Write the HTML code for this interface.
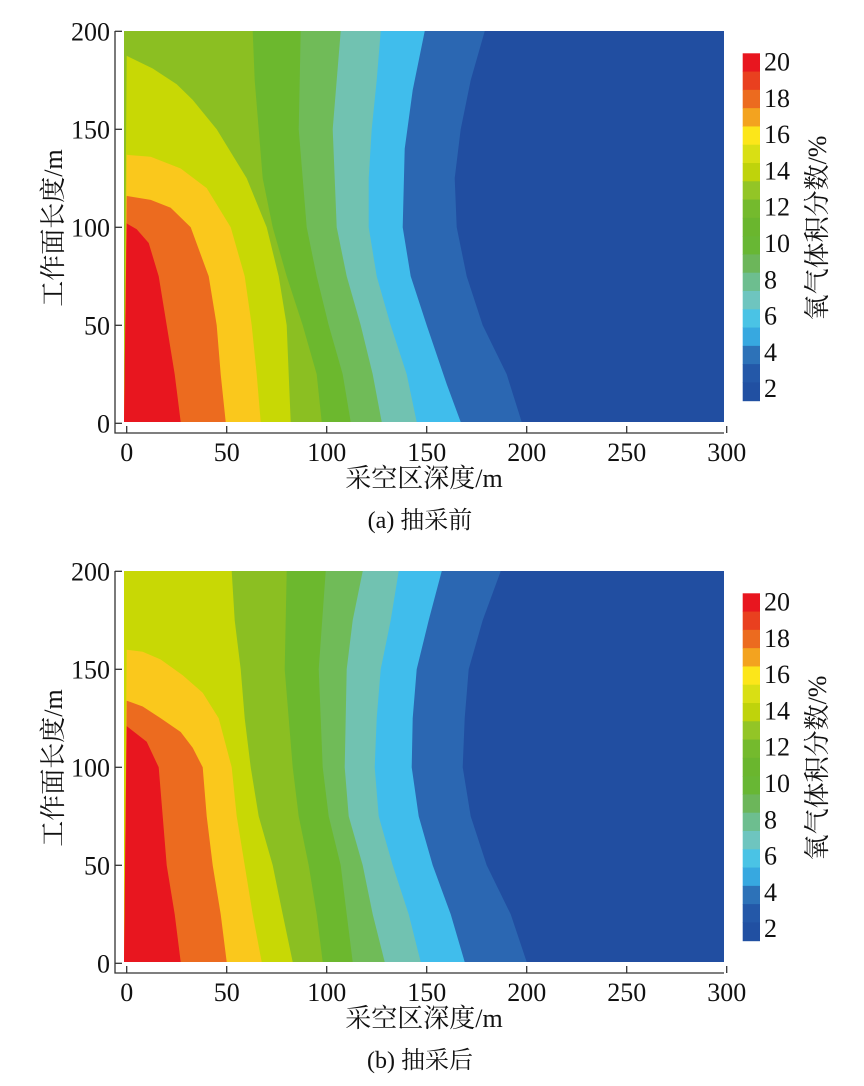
<!DOCTYPE html>
<html><head><meta charset="utf-8"><style>
html,body{margin:0;padding:0;background:#fff;}
svg{display:block;font-family:"Liberation Serif","Noto Serif CJK SC",serif;}
</style></head><body>
<svg id="fig" width="864" height="1086" viewBox="0 0 864 1086" xmlns="http://www.w3.org/2000/svg"></svg>
<script>
const bandColors = ["#214ea1","#2b67b2","#40bdec","#71c2b1","#70bb58","#6cb82e","#8bbf22","#c8d805","#fac81c","#ec6b1f","#e8161f"];
// panel (a) boundaries: [depth m, length m]
const boundsA = [
 [[197.5,0],[190,25],[178,50],[170,75],[165,100],[164,125],[167,150],[172,175],[179,200]],
 [[167,0],[160,20],[150,50],[142,75],[138,100],[139,140],[143,170],[149,200]],
 [[145,0],[140,25],[132,50],[125,75],[121,100],[121,125],[122.5,150],[125,175],[127,200]],
 [[127.5,0],[123,25],[117,50],[110,75],[105,100],[103,150],[105,175],[107,200]],
 [[112,0],[108,25],[101,50],[95,75],[90,100],[86,150],[87,200]],
 [[97.5,0],[95,25],[88,50],[80,75],[73,100],[68,125],[66,150],[64,175],[63,200]],
 [[82,0],[81,25],[80,50],[76,75],[70,100],[60,125],[45,150],[33,165],[25,173],[13,181],[0,187.5]],
 [[67,0],[65,25],[62.5,50],[59,75],[52,100],[40,120],[27,130],[12,136],[0,137]],
 [[49.5,0],[47,25],[45,50],[41,75],[32,100],[22,110],[12,114],[0,116]],
 [[27,0],[24,25],[20,50],[16,75],[11,92],[5,99],[0,102]]
];
const boundsB = [
 [[200,0],[192,25],[180,50],[172,75],[168,100],[169,125],[171,150],[178,175],[187,200]],
 [[169,0],[162,25],[153,50],[146,75],[142.5,100],[143,125],[145,150],[151,175],[157.5,200]],
 [[147,0],[141,25],[133,50],[126,75],[124,100],[125,125],[127,150],[132,175],[136,200]],
 [[129,0],[123,25],[118,50],[111,75],[109,100],[110,150],[113,175],[118,200]],
 [[113,0],[110,25],[107,50],[101,75],[98,100],[96,150],[99.5,200]],
 [[98,0],[95,25],[91,50],[86,75],[83,100],[79,150],[80,200]],
 [[83,0],[78,25],[73,50],[66,75],[62,100],[59,125],[57,150],[54,175],[52.5,200]],
 [[67.5,0],[63,25],[59,50],[55,75],[52.5,100],[46,125],[38,138],[28,147],[17,155],[8,159],[0,160]],
 [[50,0],[47,25],[43,50],[40,75],[38,100],[33,110],[27,118],[17,125],[8,131],[0,134]],
 [[27,0],[24,25],[20,50],[18,75],[16,100],[10,113],[0,121]]
];
const xTicks = [0,50,100,150,200,250,300];
const yTicks = [0,50,100,150,200];
const cbColors = ["#e8161f","#e9401f","#ec6b1f","#f3a31f","#fce61a","#d9df14","#bfd30b","#93c526","#74ba2d","#6ab62e","#68b734","#6cb65a","#6dbe8f","#6ec5bf","#4ac3e5","#37a8e0","#2d72b8","#2458a8","#2150a2"];
const cbLabels = [20,18,16,14,12,10,8,6,4,2];

const NS="http://www.w3.org/2000/svg";
const svg=document.getElementById('fig');
function mk(tag,attrs,parent){const e=document.createElementNS(NS,tag);for(const k in attrs)e.setAttribute(k,attrs[k]);(parent||svg).appendChild(e);return e;}

function panel(oy, bounds, caption, key){
  const g=mk('g',{});
  
  
  const sx=v=>126.7+v*2, sy=v=>oy+423.3-v*1.96;
  const L=124,R=724,T=oy+31,B=oy+422;
  const bg=mk('rect',{x:L,y:T,width:R-L,height:B-T,fill:bandColors[0]},g);
  
  
  bounds.forEach((pts,i)=>{
    let d='M'+L+','+B;
    pts.forEach(p=>{d+=' L'+Math.max(L,sx(p[0])).toFixed(1)+','+Math.min(B,Math.max(T,sy(p[1]))).toFixed(1);});
    const last=pts[pts.length-1];
    if(last[1]>=200) d+=' L'+Math.max(L,sx(last[0])).toFixed(1)+','+T+' L'+L+','+T;
    d+=' Z';
    const p=mk('path',{d:d,fill:bandColors[i+1]},g);
    
    
  });
  // axes
  const ax=mk('path',{d:`M115,${oy+31} L115,${oy+433} L724,${oy+433}`,stroke:'#333',fill:'none','stroke-width':1.3},g);
  
  
  yTicks.forEach(v=>{
    mk('line',{x1:115,x2:122,y1:sy(v),y2:sy(v),stroke:'#333','stroke-width':1.3},g);
    const t=mk('text',{x:110,y:sy(v)+9,'text-anchor':'end','font-size':26,fill:'#111'},g);
    t.textContent=v;
    
    
  });
  xTicks.forEach(v=>{
    mk('line',{x1:sx(v),x2:sx(v),y1:oy+433,y2:oy+426,stroke:'#333','stroke-width':1.3},g);
    const t=mk('text',{x:sx(v),y:oy+461,'text-anchor':'middle','font-size':26,fill:'#111'},g);
    t.textContent=v;
    
    
  });
  const xt=mk('text',{x:424,y:oy+487,'text-anchor':'middle','font-size':26,fill:'#111'},g);
  xt.textContent='采空区深度/m';
  
  
  const yt=mk('text',{x:0,y:0,'text-anchor':'middle','font-size':26,fill:'#111',transform:`translate(62,${oy+228}) rotate(-90)`},g);
  yt.textContent='工作面长度/m';
  
  
  const cap=mk('text',{x:420,y:oy+528,'text-anchor':'middle','font-size':24,fill:'#111'},g);
  cap.textContent=caption;
  
  
  // colorbar
  const cb=mk('g',{},g);
  
  
  const cTop=oy+53.3, segH=(400.7-53.3)/cbColors.length;
  cbColors.forEach((c,i)=>{
    const r=mk('rect',{x:742.7,y:(cTop+i*segH).toFixed(2),width:17.3,height:(segH+0.5).toFixed(2),fill:c},cb);
    
    
  });
  cbLabels.forEach(v=>{
    const y=oy+61.7+(20-v)*18.13;
    const t=mk('text',{x:764,y:y+9,'font-size':26,fill:'#111'},cb);
    t.textContent=v;
    
    
  });
  const ct=mk('text',{x:0,y:0,'text-anchor':'middle','font-size':26,fill:'#111',transform:`translate(826,${oy+228}) rotate(-90)`},cb);
  ct.textContent='氧气体积分数/%';
  
  
}
panel(0,boundsA,'(a)  抽采前','a');
panel(540,boundsB,'(b)  抽采后','b');
</script>
</body></html>
